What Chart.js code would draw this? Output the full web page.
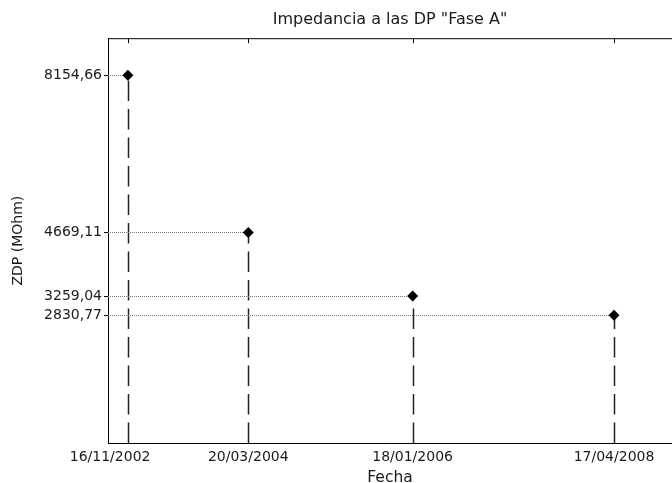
<!DOCTYPE html>
<html>
<head>
<meta charset="utf-8">
<script src="https://cdn.jsdelivr.net/npm/chart.js@4"></script>
<style>
  body { margin: 0; background: #fff; }
  #caja { width: 672px; height: 483px; }
</style>
</head>
<body>
<div id="caja"><canvas id="grafica"></canvas></div>
<script>
// datos
const fechas = ['16/11/2002', '20/03/2004', '18/01/2006', '17/04/2008'];
const zdp = [8154.66, 4669.11, 3259.04, 2830.77];

const dia = (f) => {
    const [d, m, a] = f.split('/').map(Number);
    return Date.UTC(a, m - 1, d) / 86400000;
};
const dias = fechas.map(dia);
const puntos = dias.map((x, i) => ({x: x, y: zdp[i]}));
const coma = (v) => v.toFixed(2).replace('.', ',');

Chart.defaults.font.family = '"DejaVu Sans", sans-serif';
Chart.defaults.font.size = 14;
Chart.defaults.color = '#1a1a1a';

// lineas guia: verticales a trazos, horizontales punteadas, marco superior
const guias = {
    id: 'guias',
    beforeDatasetsDraw(chart) {
        const ctx = chart.ctx;
        const area = chart.chartArea;
        const sx = chart.scales.x, sy = chart.scales.y;
        ctx.save();
        ctx.strokeStyle = '#000';
        ctx.lineWidth = 1;
        ctx.beginPath();
        ctx.moveTo(area.left, area.top + 0.5);
        ctx.lineTo(area.right, area.top + 0.5);
        ctx.stroke();
        puntos.forEach(p => {
            const px = Math.round(sx.getPixelForValue(p.x)) + 0.5;
            const py = Math.round(sy.getPixelForValue(p.y)) + 0.5;
            ctx.strokeStyle = '#000';
            ctx.lineWidth = 1;
            ctx.setLineDash([]);
            ctx.beginPath();
            ctx.moveTo(px, area.top);
            ctx.lineTo(px, area.top + 5);
            ctx.stroke();
            ctx.strokeStyle = '#777';
            ctx.setLineDash([1, 1]);
            ctx.beginPath();
            ctx.moveTo(area.left, py);
            ctx.lineTo(px, py);
            ctx.stroke();
            ctx.strokeStyle = '#222';
            ctx.lineWidth = 1.5;
            ctx.setLineDash([20.5, 8]);
            ctx.beginPath();
            ctx.moveTo(px, area.bottom);
            ctx.lineTo(px, py);
            ctx.stroke();
        });
        ctx.restore();
    }
};

new Chart(document.getElementById('grafica'), {
    type: 'scatter',
    data: {
        datasets: [{
            label: 'ZDP',
            data: puntos,
            pointStyle: 'rectRot',
            pointRadius: 5.5,
            pointBackgroundColor: '#000',
            pointBorderColor: '#000',
            pointBorderWidth: 0,
            showLine: false
        }]
    },
    options: {
        responsive: true,
        maintainAspectRatio: false,
        animation: false,
        layout: {padding: 0, autoPadding: false},
        plugins: {
            legend: {display: false},
            tooltip: {enabled: false},
            title: {
                display: true,
                fullSize: false,
                text: 'Impedancia a las DP "Fase A"',
                font: {size: 16, weight: 'normal'},
                color: '#1a1a1a',
                padding: {top: 10, bottom: 9}
            }
        },
        scales: {
            x: {
                type: 'linear',
                min: dias[0] - 81,
                max: dias[dias.length - 1] + 236,
                afterFit: (s) => { s.height = 40; },
                afterBuildTicks: (s) => { s.ticks = dias.map(v => ({value: v})); },
                ticks: {
                    autoSkip: false,
                    maxRotation: 0,
                    padding: 6,
                    callback: (v, i) => i === 0 ? fechas[i] + '        ' : fechas[i]
                },
                grid: {display: false, drawTicks: false},
                border: {display: true, color: '#000', width: 1},
                title: {display: true, text: 'Fecha', font: {size: 15.5}, padding: {top: 0, bottom: -4}}
            },
            y: {
                min: 0,
                max: 8978,
                afterFit: (s) => { s.width = 108; },
                afterBuildTicks: (s) => { s.ticks = zdp.map(v => ({value: v})); },
                ticks: {
                    autoSkip: false,
                    padding: 2,
                    callback: (v) => coma(v)
                },
                grid: {drawOnChartArea: false, drawTicks: true, tickLength: 4, color: '#000'},
                border: {display: true, color: '#000', width: 1},
                title: {display: true, text: 'ZDP (MOhm)', padding: {top: 10, bottom: 0}}
            }
        }
    },
    plugins: [guias]
});
</script>
</body>
</html>
